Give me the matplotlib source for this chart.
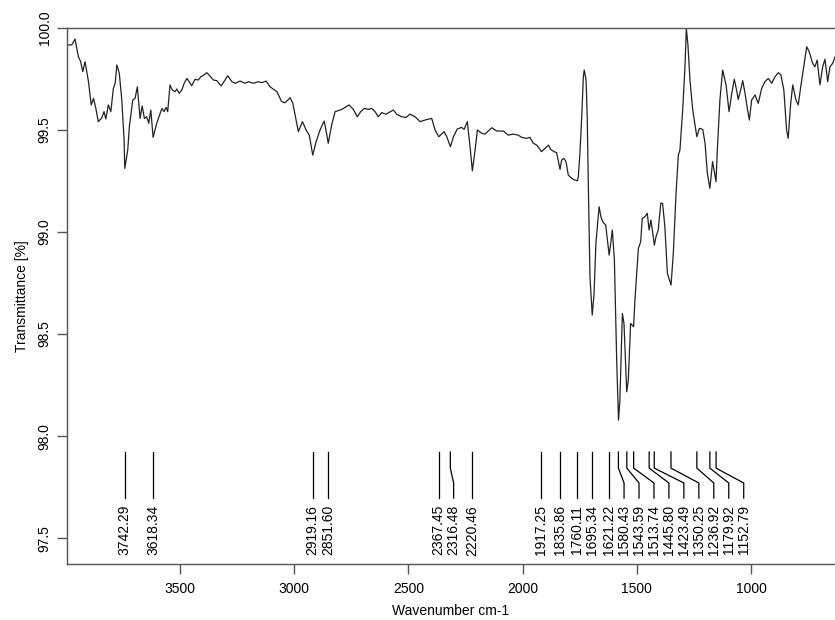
import matplotlib
matplotlib.use("Agg")
import matplotlib.pyplot as plt
import numpy as np

plt.rcParams['font.family'] = ['Liberation Sans', 'DejaVu Sans']

# IR spectrum, wavenumber (cm-1) vs transmittance (%)
wavenumber = [
    3993, 3974, 3960, 3945, 3935, 3926, 3916, 3901, 3889, 3879, 3869, 3858, 3843, 3833, 3825, 3814,
    3803, 3792, 3784, 3777, 3766, 3755, 3745, 3742, 3729, 3722, 3707, 3697, 3687, 3675, 3666, 3656,
    3646, 3637, 3628, 3618, 3602, 3587, 3579, 3570, 3561, 3554, 3544, 3534, 3522, 3514, 3504, 3492,
    3482, 3470, 3460, 3449, 3434, 3420, 3409, 3395, 3383, 3369, 3354, 3339, 3320, 3303, 3291, 3273,
    3259, 3237, 3215, 3201, 3179, 3157, 3142, 3123, 3106, 3076, 3055, 3040, 3018, 3006, 2996, 2982,
    2964, 2948, 2934, 2919, 2904, 2887, 2869, 2861, 2851, 2836, 2821, 2807, 2792, 2777, 2760, 2741,
    2724, 2709, 2693, 2675, 2661, 2646, 2632, 2617, 2598, 2584, 2566, 2551, 2529, 2510, 2493, 2471,
    2449, 2427, 2398, 2383, 2367, 2344, 2332, 2316, 2303, 2286, 2267, 2256, 2242, 2230, 2220, 2208,
    2198, 2179, 2165, 2135, 2113, 2084, 2063, 2041, 2019, 2004, 1982, 1968, 1953, 1938, 1917, 1902,
    1887, 1877, 1862, 1851, 1836, 1829, 1819, 1810, 1800, 1789, 1778, 1760, 1756, 1749, 1741, 1734,
    1730, 1722, 1717, 1712, 1705, 1695, 1687, 1679, 1665, 1657, 1649, 1636, 1621, 1614, 1607, 1598,
    1588, 1580, 1574, 1563, 1556, 1544, 1537, 1527, 1514, 1508, 1493, 1483, 1476, 1464, 1454, 1446,
    1438, 1423, 1416, 1406, 1395, 1387, 1377, 1366, 1350, 1340, 1328, 1318, 1311, 1299, 1289, 1283,
    1276, 1267, 1255, 1237, 1226, 1211, 1201, 1191, 1180, 1168, 1153, 1148, 1136, 1124, 1109, 1096,
    1084, 1073, 1063, 1056, 1045, 1036, 1026, 1016, 1007, 997, 982, 968, 953, 939, 924, 909,
    895, 880, 869, 856, 844, 837, 826, 817, 803, 793, 782, 771, 756, 745, 730, 720,
    710, 698, 686, 676, 664, 654, 642, 632, 620,
]
transmittance = [
    99.917, 99.917, 99.946, 99.859, 99.835, 99.786, 99.835, 99.737, 99.623, 99.655, 99.608, 99.541, 99.559, 99.590, 99.554, 99.623,
    99.590, 99.704, 99.729, 99.819, 99.778, 99.647, 99.451, 99.312, 99.402, 99.516, 99.647, 99.655, 99.712, 99.557, 99.618, 99.557,
    99.565, 99.533, 99.598, 99.464, 99.533, 99.582, 99.606, 99.590, 99.611, 99.590, 99.721, 99.696, 99.688, 99.701, 99.680, 99.696,
    99.729, 99.753, 99.737, 99.717, 99.749, 99.745, 99.761, 99.770, 99.781, 99.765, 99.745, 99.742, 99.716, 99.745, 99.766, 99.737,
    99.729, 99.740, 99.729, 99.737, 99.729, 99.737, 99.732, 99.740, 99.712, 99.688, 99.639, 99.634, 99.658, 99.631, 99.574, 99.492,
    99.541, 99.500, 99.475, 99.377, 99.443, 99.500, 99.544, 99.500, 99.435, 99.525, 99.590, 99.595, 99.601, 99.611, 99.623, 99.601,
    99.565, 99.590, 99.606, 99.601, 99.606, 99.590, 99.565, 99.585, 99.578, 99.587, 99.598, 99.577, 99.565, 99.562, 99.578, 99.565,
    99.541, 99.549, 99.557, 99.500, 99.467, 99.492, 99.467, 99.418, 99.467, 99.505, 99.513, 99.503, 99.541, 99.418, 99.300, 99.402,
    99.500, 99.484, 99.480, 99.511, 99.495, 99.495, 99.475, 99.480, 99.475, 99.464, 99.459, 99.464, 99.435, 99.426, 99.394, 99.410,
    99.426, 99.405, 99.394, 99.389, 99.307, 99.353, 99.361, 99.345, 99.279, 99.268, 99.258, 99.251, 99.271, 99.386, 99.565, 99.761,
    99.794, 99.745, 99.565, 99.222, 98.781, 98.593, 98.700, 98.945, 99.124, 99.075, 99.050, 99.034, 98.887, 98.945, 99.010, 98.863,
    98.373, 98.078, 98.176, 98.601, 98.552, 98.217, 98.275, 98.552, 98.536, 98.667, 98.920, 98.952, 99.067, 99.075, 99.092, 99.010,
    99.059, 98.936, 98.977, 99.010, 99.141, 99.141, 99.026, 98.798, 98.740, 98.896, 99.190, 99.377, 99.402, 99.598, 99.810, 99.998,
    99.917, 99.745, 99.598, 99.467, 99.508, 99.503, 99.435, 99.288, 99.214, 99.345, 99.247, 99.386, 99.647, 99.794, 99.721, 99.590,
    99.680, 99.749, 99.696, 99.650, 99.696, 99.742, 99.680, 99.606, 99.549, 99.647, 99.672, 99.631, 99.704, 99.737, 99.753, 99.729,
    99.761, 99.781, 99.770, 99.696, 99.500, 99.459, 99.631, 99.721, 99.647, 99.623, 99.712, 99.794, 99.908, 99.884, 99.827, 99.810,
    99.843, 99.721, 99.810, 99.847, 99.737, 99.810, 99.827, 99.859, 99.850,
]

# picked peaks
peaks = [3742.29, 3618.34, 2919.16, 2851.60, 2367.45, 2316.48, 2220.46,
         1917.25, 1835.86, 1760.11, 1695.34, 1621.22, 1580.43, 1543.59,
         1513.74, 1445.80, 1423.49, 1350.25, 1236.92, 1179.92, 1152.79]

fig = plt.figure(figsize=(8.35, 6.2), dpi=100)
ax = fig.add_axes([67 / 835, 56 / 620, 768 / 835, 536 / 620])

ax.plot(wavenumber, transmittance, color='#222222', lw=0.9)

ax.set_xlim(3995, 632)
ax.set_ylim(97.373, 100.0)

# spread the labels so neighbouring ones don't overlap
gap = 65.5
label_x = []
for p in peaks:
    if label_x and label_x[-1] - p < gap:
        label_x.append(label_x[-1] - gap)
    else:
        label_x.append(p)

y_top, y_bend1, y_bend2, y_bot = 97.922, 97.843, 97.770, 97.696
for p, lx in zip(peaks, label_x):
    if abs(p - lx) < 1:
        ax.plot([p, p], [y_top, y_bot], color='black', lw=0.9)
    else:
        ax.plot([p, p, lx, lx], [y_top, y_bend1, y_bend2, y_bot], color='black', lw=0.9)
    ax.text(lx, 97.662, f"{p:.2f}", rotation=90, ha='center', va='top', fontsize=10)

for side in ['left', 'bottom', 'top']:
    ax.spines[side].set_color('#555555')
    ax.spines[side].set_linewidth(1.0)
ax.spines['right'].set_visible(False)

ax.set_xticks([3500, 3000, 2500, 2000, 1500, 1000])
ax.set_yticks([97.5, 98.0, 98.5, 99.0, 99.5, 100.0])
ax.set_yticklabels(["97.5", "98.0", "98.5", "99.0", "99.5", "100.0"], rotation=90, va='center')
ax.tick_params(direction='out', length=7, width=1.0, color='#555555', labelsize=10, pad=6)
ax.tick_params(axis='y', pad=4)

ax.set_xlabel("Wavenumber cm-1", fontsize=10, labelpad=6)
ax.set_ylabel("Transmittance [%]", fontsize=10, labelpad=6)

fig.savefig("out.png", dpi=100)
